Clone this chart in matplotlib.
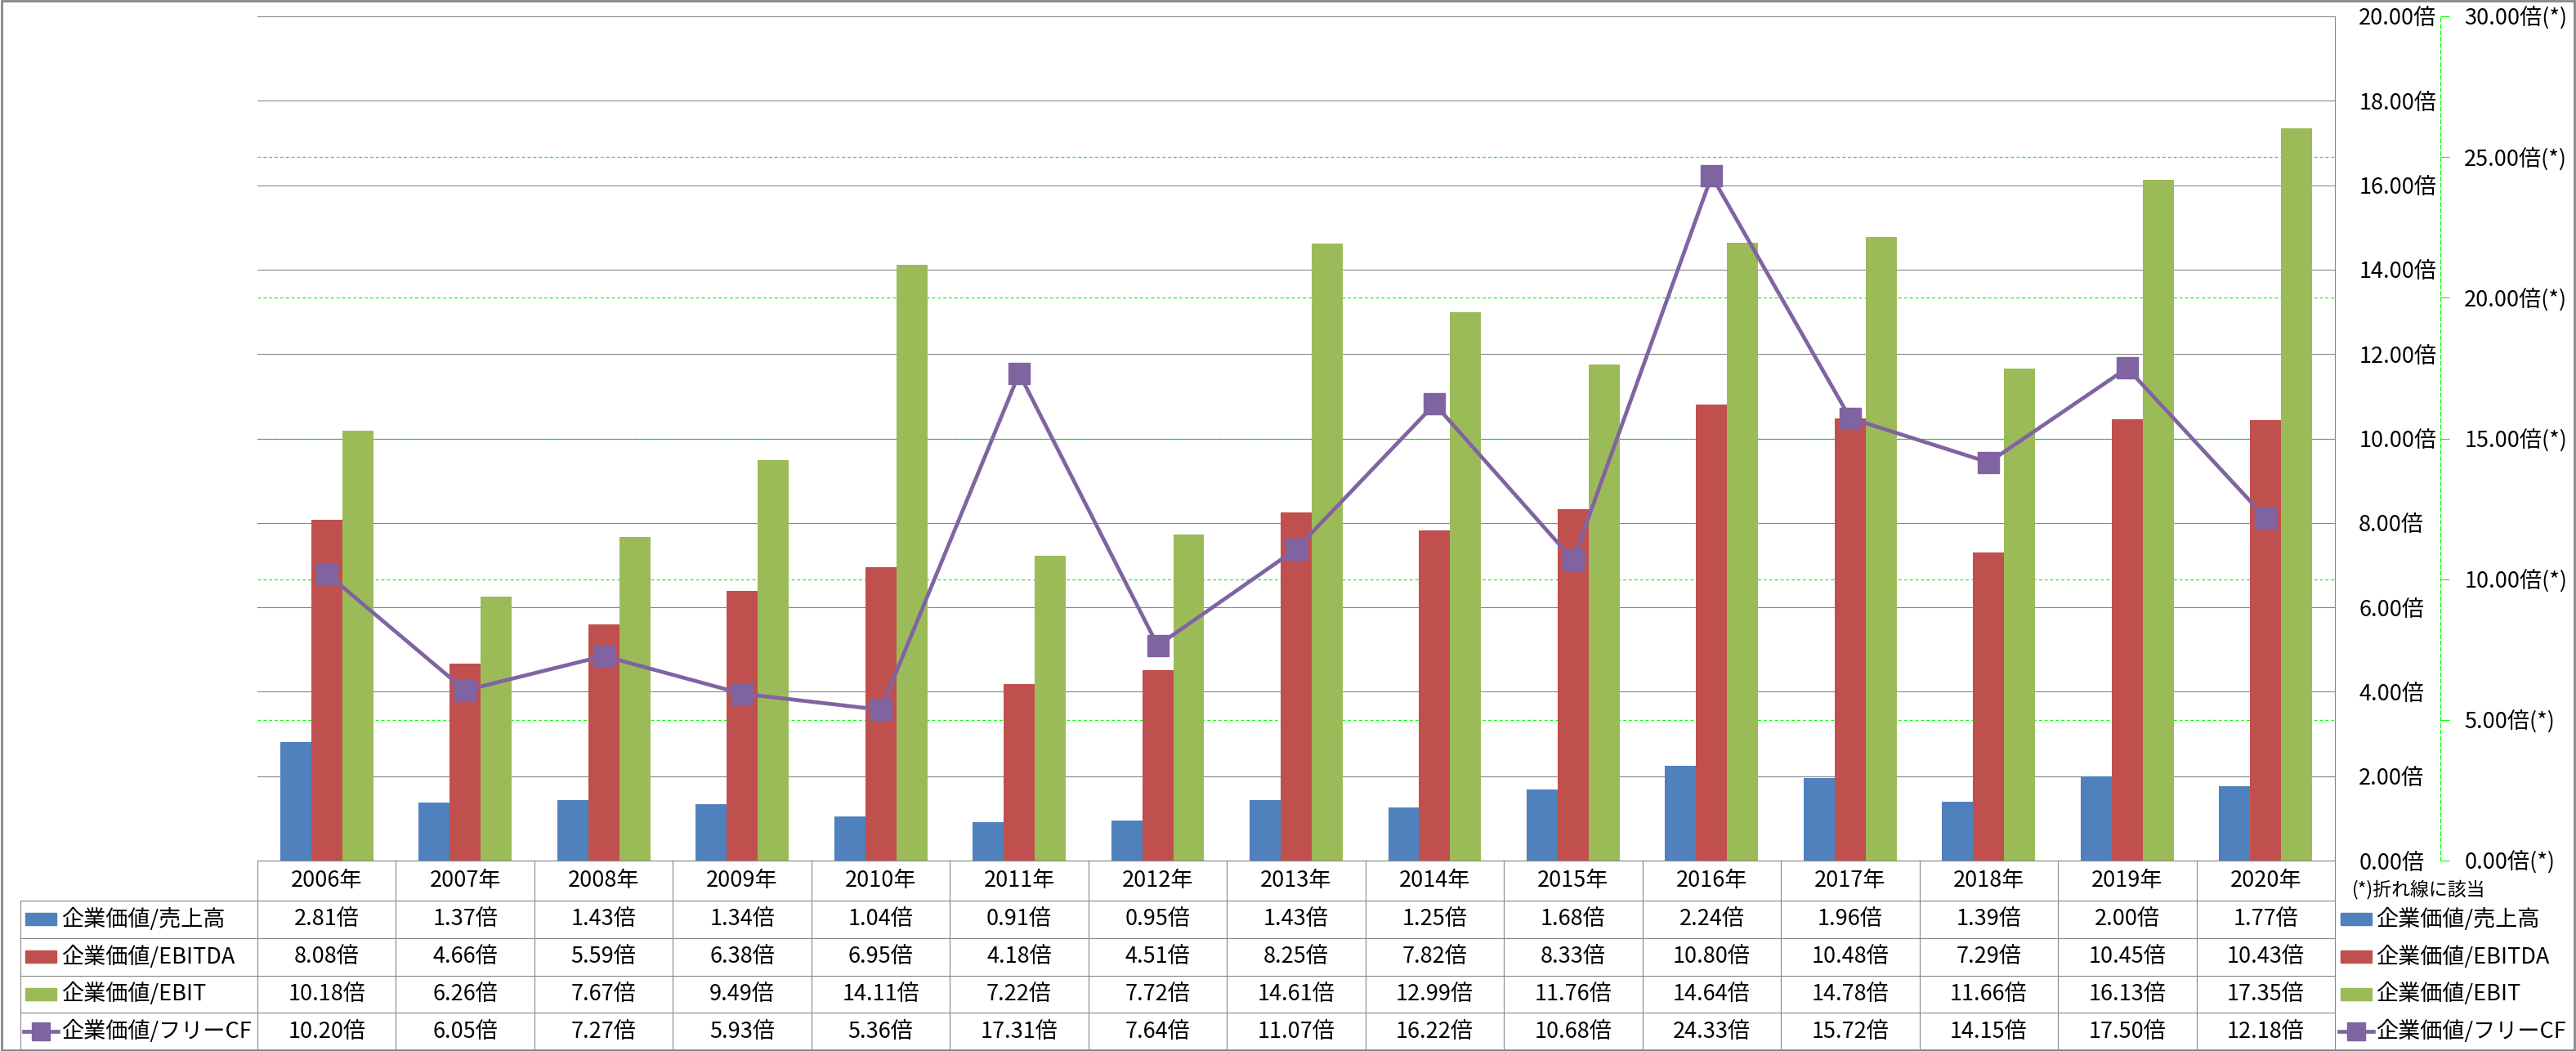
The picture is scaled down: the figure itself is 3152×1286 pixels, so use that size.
import numpy as np
import matplotlib
matplotlib.use('Agg')
import matplotlib.pyplot as plt
import matplotlib.ticker as ticker
import matplotlib.transforms as mtrans
from matplotlib.lines import Line2D
from matplotlib.patches import Rectangle

plt.rcParams['font.family'] = ['Noto Sans CJK JP', 'DejaVu Sans']

# データ
years = ['2006年', '2007年', '2008年', '2009年', '2010年', '2011年', '2012年', '2013年',
         '2014年', '2015年', '2016年', '2017年', '2018年', '2019年', '2020年']
ev_sales = [2.81, 1.37, 1.43, 1.34, 1.04, 0.91, 0.95, 1.43, 1.25, 1.68, 2.24, 1.96, 1.39, 2.00, 1.77]
ev_ebitda = [8.08, 4.66, 5.59, 6.38, 6.95, 4.18, 4.51, 8.25, 7.82, 8.33, 10.80, 10.48, 7.29, 10.45, 10.43]
ev_ebit = [10.18, 6.26, 7.67, 9.49, 14.11, 7.22, 7.72, 14.61, 12.99, 11.76, 14.64, 14.78, 11.66, 16.13, 17.35]
ev_fcf = [10.20, 6.05, 7.27, 5.93, 5.36, 17.31, 7.64, 11.07, 16.22, 10.68, 24.33, 15.72, 14.15, 17.50, 12.18]
names = ['企業価値/売上高', '企業価値/EBITDA', '企業価値/EBIT', '企業価値/フリーCF']
colors = ['#4F81BD', '#C0504D', '#9BBB59', '#8064A2']
left_ticks = np.arange(0, 21, 2)
right_ticks = np.arange(0, 31, 5)

W, H = 3152, 1286
fig = plt.figure(figsize=(W / 100, H / 100), dpi=100)
fx = lambda p: p / W
fy = lambda p: 1 - p / H

PL, PR, PT, PB = 315, 2857, 20, 1053
ax = fig.add_axes([fx(PL), fy(PB), fx(PR - PL), (PB - PT) / H])
ax2 = ax.twinx()

grid_c = '#868686'
fs = 19.5

x = np.arange(len(years))
bw = 0.224
ax.bar(x - bw, ev_sales, bw, color=colors[0], zorder=3)
ax.bar(x, ev_ebitda, bw, color=colors[1], zorder=3)
ax.bar(x + bw, ev_ebit, bw, color=colors[2], zorder=3)
ax.set_xlim(-0.5, len(years) - 0.5)
ax.set_ylim(0, 20)
ax.set_xticks([])
ax.yaxis.tick_right()
ax.set_yticks(left_ticks)
ax.yaxis.set_major_formatter(ticker.FuncFormatter(lambda v, p: '%.2f倍' % v))
ax.tick_params(axis='y', length=0, pad=21, labelsize=fs)
for t in ax.get_yticklabels():
    t.set_horizontalalignment('left')
ax.grid(axis='y', color=grid_c, lw=0.8, zorder=1.5)
for s in ['left', 'top']:
    ax.spines[s].set_visible(False)
ax.spines['right'].set_color(grid_c)
ax.spines['bottom'].set_color(grid_c)
ax.spines['right'].set_linewidth(0.8)
ax.spines['bottom'].set_linewidth(0.8)

# 第2軸
ax2.set_ylim(0, 30)
ax2.set_yticks(right_ticks)
ax2.yaxis.set_major_formatter(ticker.FuncFormatter(lambda v, p: '%.2f倍(*)' % v))
ax2.tick_params(axis='y', length=8, width=0.8, color='#00FF00', pad=13, labelsize=fs)
for s in ['left', 'top', 'bottom']:
    ax2.spines[s].set_visible(False)
ax2.spines['right'].set_position(('outward', 93))
ax2.spines['right'].set_color('#00FF00')
ax2.spines['right'].set_linestyle((0, (4, 3)))
ax2.spines['right'].set_linewidth(0.8)

# 第2軸の目盛線（棒の後ろ）
gtr = mtrans.blended_transform_factory(ax.transAxes, ax2.transData)
for v in right_ticks[1:-1]:
    ax.plot([0, 1], [v, v], transform=gtr, color='#00FF00', lw=0.9, ls=(0, (3, 2.5)), zorder=1)

ax2.plot(x, ev_fcf, color=colors[3], lw=3.4, marker='s', ms=19, mfc=colors[3], mec=colors[3], zorder=5)

# データテーブル
trans = mtrans.blended_transform_factory(ax.transData, fig.transFigure)
TL = 25
rows_y = [1102 + 45.75 * k for k in range(5)]
for yy in rows_y:
    fig.add_artist(Line2D([fx(TL), fx(PR)], [fy(yy), fy(yy)], color=grid_c, lw=0.8))
fig.add_artist(Line2D([fx(TL), fx(TL)], [fy(1102), fy(1285)], color=grid_c, lw=0.8))
for i in range(len(years) + 1):
    fig.add_artist(Line2D([i - 0.5, i - 0.5], [fy(PB), fy(1285)], color=grid_c, lw=0.8, transform=trans))
for i, y in enumerate(years):
    fig.text(i, fy((PB + 1102) / 2), y, transform=trans, ha='center', va='center', fontsize=fs)
series = [ev_sales, ev_ebitda, ev_ebit, ev_fcf]
for k, vals in enumerate(series):
    cy = fy(rows_y[k] + 45.75 / 2)
    for i, v in enumerate(vals):
        fig.text(i, cy, '%.2f倍' % v, transform=trans, ha='center', va='center', fontsize=fs)


def legend_key(x0, cy, k):
    if k < 3:
        fig.add_artist(Rectangle((fx(x0), cy - 7.5 / H), 38 / W, 15 / H, color=colors[k], transform=fig.transFigure))
    else:
        fig.add_artist(Line2D([fx(x0 - 2), fx(x0 + 40)], [cy, cy], color=colors[3], lw=3.4))
        fig.add_artist(Line2D([fx(x0 + 19)], [cy], color=colors[3], marker='s', ms=16))


for k in range(4):
    cy = fy(rows_y[k] + 45.75 / 2)
    legend_key(31, cy, k)
    fig.text(fx(75), cy, names[k], ha='left', va='center', fontsize=fs)
    legend_key(2864, cy, k)
    fig.text(fx(2907), cy, names[k], ha='left', va='center', fontsize=fs)

fig.text(fx(2878), fy(1088), '(*)折れ線に該当', ha='left', va='center', fontsize=16.5)

fig.add_artist(Rectangle((0.0005, 0.001), 0.999, 0.998, fill=False, edgecolor=grid_c, lw=2, transform=fig.transFigure))

fig.savefig('out.png', dpi=100)
